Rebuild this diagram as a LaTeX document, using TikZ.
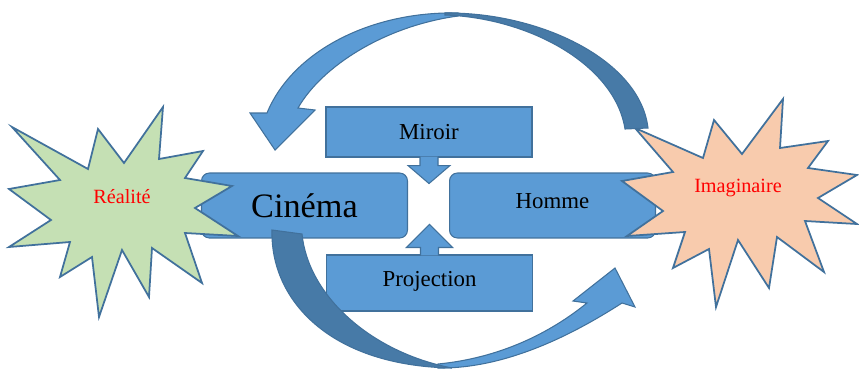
\documentclass[tikz,border=0pt]{standalone}
\usepackage{fontspec}
\setmainfont{Liberation Serif}
\usetikzlibrary{positioning}
\definecolor{boxblue}{HTML}{5B9BD5}
\definecolor{edgeblue}{HTML}{41719C}
\definecolor{backblue}{HTML}{477AA7}
\definecolor{burstgreen}{HTML}{C5E0B4}
\definecolor{burstorange}{HTML}{F8CBAD}

\begin{document}
\begin{tikzpicture}[x=0.02cm,y=-0.02cm,
  box/.style={rectangle,fill=boxblue,draw=edgeblue,line width=0.6pt,
    inner sep=0pt,minimum width=4.12cm,font=\fontsize{13}{14}\selectfont},
  burst/.style={draw=edgeblue,line width=1pt,line join=miter},
  burstlabel/.style={text=red,font=\fontsize{11.5}{12}\selectfont},
  ribbon/.style={fill=boxblue,draw=edgeblue,line width=0.6pt},
  ribbonback/.style={fill=backblue,draw=edgeblue,line width=0.6pt}]
  \useasboundingbox (0,0) rectangle (859,369);
  % central boxes
  \node[box,rounded corners=4.5pt,minimum height=1.3cm,
    font=\fontsize{19.5}{21}\selectfont] (cinema) at (304.5,205.5) {Cinéma};
  \node[box,rounded corners=4.5pt,minimum height=1.3cm,text depth=5pt,
    right=0.82cm of cinema] (homme) {Homme};
  \node[box,minimum height=1cm] (miroir) at (429,132) {Miroir};
  \node[box,minimum height=1.12cm,text depth=5pt] (projection) at (429.5,283) {Projection};
  \filldraw[ribbon] (miroir.south) ++(-9,-1) -- ++(0,9) -- ++(-12,0) -- ++(21,18)
    -- ++(21,-18) -- ++(-12,0) -- ++(0,-9);
  \filldraw[ribbon] (projection.north) ++(-9,1) -- ++(0,-8) -- ++(-14,0) -- ++(23,-23)
    -- ++(23,23) -- ++(-14,0) -- ++(0,8);
  % bursts
  \filldraw[burst,fill=burstgreen] (12,127) -- (88,169) -- (98,129) -- (124,163)
    -- (163,107) -- (159,159) -- (203,151) -- (185,178) -- (232,186) -- (195,208)
    -- (238,236) -- (185,233) -- (202,283) -- (152,248) -- (149,297) -- (122,250)
    -- (99,317) -- (92,257) -- (60,277) -- (70,242) -- (9,247) -- (51,220)
    -- (9,189) -- (60,180) -- cycle;
  \filldraw[burst,fill=burstorange] (635,128) -- (703,158) -- (714,120) -- (742,154)
    -- (783,99) -- (780,148) -- (828,141) -- (808,168) -- (857,175) -- (818,198)
    -- (857,224) -- (805,221) -- (824,272) -- (777,237) -- (769,288) -- (738,240)
    -- (716,307) -- (709,249) -- (673,268) -- (685,232) -- (627,236) -- (663,211)
    -- (622,181) -- (673,172) -- cycle;
  \node[burstlabel] (realite) at (122,197) {Réalité};
  \node[burstlabel] (imaginaire) at (738,188) {Imaginaire};
  % curved arrow on top
  \filldraw[ribbon] (458,13) .. controls (370,11) and (292,52) .. (267,113)
    -- (250,113) -- (275,150) -- (315,110) -- (298,108)
    .. controls (322,66) and (385,26) .. (458,16) -- cycle;
  \filldraw[ribbonback] (445,13) .. controls (540,12) and (640,60) .. (648,128)
    -- (625,129) .. controls (615,65) and (530,18) .. (445,15) -- cycle;
  % curved arrow at the bottom
  \filldraw[ribbon] (438,368) .. controls (510,369) and (580,330) .. (622,303)
    -- (635,307) -- (615,268) -- (573,301) -- (587,303)
    .. controls (550,333) and (500,358) .. (438,364) -- cycle;
  \filldraw[ribbonback] (272,230) .. controls (270,300) and (330,366) .. (452,368)
    .. controls (370,352) and (308,295) .. (302,234) -- cycle;
\end{tikzpicture}
\end{document}
